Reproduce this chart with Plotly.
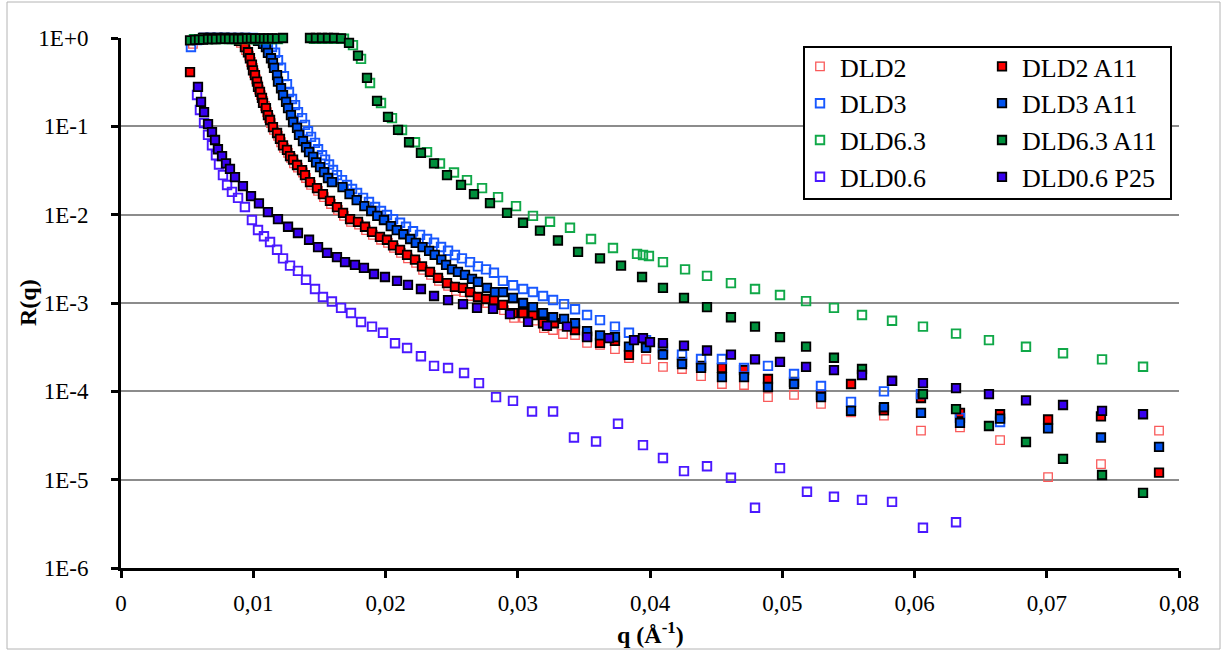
import plotly.graph_objects as go

# ---------------- data (q in 1/Angstrom, R dimensionless) ----------------
q_dld2 = [0.00544, 0.00597, 0.00650, 0.00703, 0.00756, 0.00809, 0.00862, 0.00907,
          0.00945, 0.00968, 0.00983, 0.00998, 0.01006, 0.01021, 0.01036, 0.01043, 0.01058, 0.01074,
          0.01089, 0.01104, 0.01119, 0.01134, 0.01157, 0.01187, 0.01210, 0.01232, 0.01263, 0.01285,
          0.01308, 0.01338, 0.01376, 0.01399, 0.01437, 0.01490, 0.01535, 0.01588, 0.01641, 0.01686,
          0.01739, 0.01800, 0.01853, 0.01905, 0.01966, 0.02019, 0.02064, 0.02117, 0.02170, 0.02231,
          0.02284, 0.02344, 0.02404, 0.02473, 0.02533, 0.02594, 0.02647, 0.02707, 0.02768, 0.02828,
          0.02896, 0.02972, 0.03047, 0.03123, 0.03198, 0.03267, 0.03342, 0.03433, 0.03524, 0.03622,
          0.03735, 0.03841, 0.03970, 0.04098, 0.04242, 0.04386, 0.04544, 0.04711, 0.04892, 0.05089,
          0.05293, 0.05520, 0.05769, 0.06049, 0.06344, 0.06647, 0.07010, 0.07410, 0.07849]
r_dld2 = [0.86, 0.97, 1.0, 1.0, 1.0, 1.0, 0.97, 0.88,
          0.73, 0.63, 0.535, 0.46, 0.40, 0.34, 0.29, 0.26, 0.226, 0.194,
          0.17, 0.145, 0.124, 0.109, 0.091, 0.078, 0.066, 0.057, 0.050, 0.044,
          0.038, 0.034, 0.030, 0.026, 0.0217, 0.0186, 0.0158, 0.0132, 0.0113, 0.0097,
          0.0083, 0.0077, 0.0067, 0.0059, 0.0052, 0.0048, 0.0042, 0.0037, 0.0032, 0.00284,
          0.00237, 0.00208, 0.00178, 0.00156, 0.00137, 0.00133, 0.00120, 0.00105, 0.00100, 0.00095,
          0.00083, 0.00068, 0.00068, 0.00063, 0.00052, 0.000495, 0.000446, 0.000434, 0.000353, 0.000335,
          0.000301, 0.000238, 0.000232, 0.000189, 0.000179, 0.000149, 0.000121, 0.000118, 8.6e-5, 9.1e-5,
          7.2e-5, 5.8e-5, 5.3e-5, 3.6e-5, 3.9e-5, 2.8e-5, 1.07e-5, 1.5e-5, 3.6e-5]

q_dld2_a11 = [0.00522, 0.00575, 0.00628, 0.00680, 0.00733, 0.00786, 0.00839, 0.00892,
              0.00937, 0.00960, 0.00975, 0.00990, 0.00998, 0.01013, 0.01028, 0.01036, 0.01051, 0.01066,
              0.01074, 0.01096, 0.01111, 0.01127, 0.01149, 0.01180, 0.01202, 0.01225, 0.01255, 0.01278,
              0.01301, 0.01331, 0.01369, 0.01391, 0.01429, 0.01482, 0.01527, 0.01580, 0.01633, 0.01679,
              0.01732, 0.01792, 0.01845, 0.01898, 0.01958, 0.02011, 0.02057, 0.02110, 0.02163, 0.02223,
              0.02276, 0.02336, 0.02397, 0.02465, 0.02525, 0.02586, 0.02639, 0.02699, 0.02760, 0.02820,
              0.02888, 0.02964, 0.03040, 0.03115, 0.03191, 0.03274, 0.03433, 0.03524, 0.03622, 0.03735,
              0.03841, 0.03970, 0.04098, 0.04242, 0.04386, 0.04544, 0.04711, 0.04892, 0.05089, 0.05293,
              0.05520, 0.05769, 0.06049, 0.06344, 0.06647, 0.07010, 0.07410, 0.07849]
r_dld2_a11 = [0.41, 0.97, 1.0, 1.0, 1.0, 1.0, 0.97, 0.93,
              0.79, 0.69, 0.59, 0.50, 0.43, 0.38, 0.32, 0.28, 0.245, 0.21,
              0.184, 0.161, 0.134, 0.118, 0.098, 0.084, 0.072, 0.061, 0.054, 0.046,
              0.042, 0.0365, 0.032, 0.028, 0.0234, 0.020, 0.0171, 0.0143, 0.0122, 0.0105,
              0.0089, 0.0083, 0.0073, 0.0064, 0.0056, 0.0052, 0.0045, 0.0040, 0.0035, 0.0031,
              0.0026, 0.00225, 0.00193, 0.00168, 0.00152, 0.00148, 0.00133, 0.00117, 0.00111, 0.00108,
              0.00095, 0.00077, 0.00077, 0.00073, 0.00059, 0.00059, 0.000495, 0.000423, 0.000353, 0.000372,
              0.000258, 0.000318, 0.000265, 0.000215, 0.000194, 0.000184, 0.000174, 0.000138, 0.000128, 9.1e-5,
              1.21e-4, 6.1e-5, 8.4e-5, 5.7e-5, 5.5e-5, 4.8e-5, 5.2e-5, 1.2e-5]

q_dld3 = [0.00529, 0.00575, 0.00628, 0.00680, 0.00733, 0.00786, 0.00839, 0.00892, 0.00945, 0.00998,
          0.01043, 0.01081, 0.01111, 0.01142, 0.01165, 0.01187, 0.01210, 0.01232, 0.01255, 0.01270,
          0.01293, 0.01316, 0.01338, 0.01369, 0.01391, 0.01414, 0.01437, 0.01467, 0.01490, 0.01520,
          0.01543, 0.01573, 0.01603, 0.01633, 0.01671, 0.01709, 0.01747, 0.01785, 0.01830, 0.01875,
          0.01921, 0.01966, 0.02011, 0.02057, 0.02110, 0.02155, 0.02208, 0.02261, 0.02314, 0.02367,
          0.02420, 0.02473, 0.02525, 0.02578, 0.02639, 0.02699, 0.02760, 0.02820, 0.02888, 0.02964,
          0.03040, 0.03115, 0.03191, 0.03267, 0.03350, 0.03433, 0.03524, 0.03622, 0.03735, 0.03841,
          0.03970, 0.04098, 0.04242, 0.04386, 0.04544, 0.04711, 0.04892, 0.05089, 0.05293, 0.05520,
          0.05769, 0.06049, 0.06344, 0.06647]
r_dld3 = [0.79, 0.95, 1.0, 1.0, 1.0, 1.0, 1.0, 1.0, 1.0, 1.0,
          0.97, 0.93, 0.89, 0.79, 0.68, 0.56, 0.46, 0.37, 0.30, 0.245,
          0.204, 0.174, 0.145, 0.124, 0.104, 0.088, 0.076, 0.065, 0.055, 0.047,
          0.042, 0.037, 0.032, 0.028, 0.0246, 0.0217, 0.0195, 0.0176, 0.0155, 0.0139,
          0.0122, 0.0110, 0.0099, 0.0089, 0.0081, 0.0073, 0.0065, 0.0059, 0.0053, 0.0048,
          0.0043, 0.0039, 0.0035, 0.0032, 0.0029, 0.0026, 0.0024, 0.0022, 0.00178, 0.00159,
          0.00144, 0.00133, 0.00120, 0.00108, 0.00097, 0.00085, 0.00073, 0.00064, 0.00054, 0.00046,
          0.00038, 0.00031, 0.00026, 0.000232, 0.000232, 0.000184, 0.000194, 0.000157, 0.000115, 7.6e-5,
          1.0e-4, 9.3e-5, 5.0e-5, 4.5e-5]

q_dld3_a11 = [0.00522, 0.00567, 0.00620, 0.00673, 0.00726, 0.00779, 0.00832, 0.00885, 0.00937, 0.00990,
              0.01036, 0.01074, 0.01096, 0.01111, 0.01134, 0.01149, 0.01157, 0.01180, 0.01187, 0.01210,
              0.01225, 0.01248, 0.01263, 0.01285, 0.01301, 0.01331, 0.01346, 0.01376, 0.01399, 0.01422,
              0.01452, 0.01475, 0.01505, 0.01535, 0.01565, 0.01595, 0.01675, 0.01728, 0.01782, 0.01840,
              0.01892, 0.01938, 0.01988, 0.02040, 0.02085, 0.02135, 0.02186, 0.02229, 0.02280, 0.02330,
              0.02372, 0.02422, 0.02458, 0.02503, 0.02548, 0.02601, 0.02654, 0.02699, 0.02767, 0.02828,
              0.02888, 0.02964, 0.03040, 0.03115, 0.03191, 0.03267, 0.03350, 0.03433, 0.03524, 0.03622,
              0.03735, 0.03841, 0.03970, 0.04098, 0.04242, 0.04386, 0.04544, 0.04711, 0.04892, 0.05089,
              0.05293, 0.05520, 0.05769, 0.06049, 0.06344, 0.06647, 0.07010, 0.07410, 0.07849]
r_dld3_a11 = [1.02, 1.02, 1.0, 1.0, 1.0, 1.0, 1.0, 1.0, 1.0, 0.97,
              0.93, 0.86, 0.79, 0.68, 0.59, 0.52, 0.46, 0.38, 0.32, 0.27,
              0.226, 0.189, 0.161, 0.134, 0.112, 0.096, 0.080, 0.068, 0.058, 0.051,
              0.045, 0.039, 0.0346, 0.0303, 0.026, 0.0234, 0.0205, 0.0171, 0.0146, 0.0125,
              0.0110, 0.0097, 0.0087, 0.0074, 0.0067, 0.0060, 0.0053, 0.0048, 0.0043, 0.0039,
              0.0035, 0.0031, 0.0027, 0.0024, 0.00225, 0.00208, 0.00188, 0.00173, 0.00148, 0.00133,
              0.00133, 0.00114, 0.00100, 0.00090, 0.00077, 0.00069, 0.00066, 0.00059, 0.00048, 0.00043,
              0.00041, 0.00032, 0.00031, 0.00026, 0.000204, 0.000184, 0.000145, 0.000145, 0.000112, 0.000121,
              8.6e-5, 6.0e-5, 6.6e-5, 5.7e-5, 4.4e-5, 4.9e-5, 3.8e-5, 3.0e-5, 2.35e-5]

q_dld63 = [0.00552, 0.00605, 0.00658, 0.00711, 0.00764, 0.00817, 0.00870, 0.00922, 0.00975, 0.01028,
           0.01081, 0.01134, 0.01187,
           0.01459, 0.01505, 0.01550, 0.01595, 0.01641, 0.01686,
           0.01754, 0.01815, 0.01883, 0.01966, 0.02049, 0.02125, 0.02223, 0.02314, 0.02412, 0.02518,
           0.02616, 0.02730, 0.02851, 0.02987, 0.03115, 0.03244, 0.03395, 0.03554, 0.03720, 0.03902,
           0.03947, 0.03992, 0.04098, 0.04265, 0.04431, 0.04612, 0.04794, 0.04983, 0.05180, 0.05391,
           0.05603, 0.05830, 0.06064, 0.06314, 0.06563, 0.06843, 0.07123, 0.07418, 0.07728]
r_dld63 = [0.97, 0.97, 0.97, 0.97, 0.97, 0.97, 0.97, 0.97, 0.97, 0.97,
           0.97, 0.97, 0.97,
           0.98, 0.98, 0.98, 0.98, 0.98, 0.98,
           0.83, 0.58, 0.31, 0.184, 0.124, 0.091, 0.066, 0.051, 0.038, 0.030,
           0.0246, 0.020, 0.0158, 0.0125, 0.0097, 0.0083, 0.0071, 0.0053, 0.0042, 0.0036,
           0.0035, 0.0034, 0.0029, 0.0024, 0.00203, 0.00168, 0.00144, 0.00123, 0.00105, 0.00088,
           0.00073, 0.00063, 0.00054, 0.00045, 0.00038, 0.00032, 0.00027, 0.00023, 0.00019]

q_dld63_a11 = [0.00522, 0.00560, 0.00590, 0.00620, 0.00658, 0.00688, 0.00718, 0.00756, 0.00786, 0.00817,
               0.00854, 0.00885, 0.00915, 0.00953, 0.00983, 0.01013, 0.01051, 0.01081, 0.01111, 0.01142,
               0.01180, 0.01225,
               0.01429, 0.01474, 0.01520, 0.01565, 0.01611, 0.01664,
               0.01724, 0.01792, 0.01860, 0.01936, 0.02019, 0.02095, 0.02178, 0.02268, 0.02367, 0.02465,
               0.02571, 0.02669, 0.02790, 0.02919, 0.03040, 0.03168, 0.03304, 0.03456, 0.03622, 0.03781,
               0.03940, 0.04098, 0.04257, 0.04431, 0.04612, 0.04794, 0.04983, 0.05180, 0.05391, 0.05603,
               0.05830, 0.06064, 0.06314, 0.06563, 0.06843, 0.07123, 0.07418, 0.07728]
r_dld63_a11 = [0.94, 0.95, 0.96, 0.96, 0.97, 0.97, 0.97, 0.98, 0.98, 0.98,
               0.98, 0.98, 0.98, 0.99, 0.99, 0.99, 0.99, 0.99, 0.99, 0.99,
               0.99, 1.0,
               1.0, 1.0, 1.0, 1.0, 1.0, 0.99,
               0.88, 0.63, 0.353, 0.194, 0.128, 0.091, 0.066, 0.050, 0.038, 0.028,
               0.0217, 0.0171, 0.0135, 0.0105, 0.0081, 0.0066, 0.0051, 0.0038, 0.0032, 0.00265,
               0.00197, 0.00148, 0.00114, 0.00090, 0.00069, 0.00054, 0.00041, 0.00032, 0.00024, 0.000179,
               0.000131, 9.3e-5, 6.3e-5, 4.05e-5, 2.67e-5, 1.72e-5, 1.13e-5, 7.1e-6]

q_dld06 = [0.00575, 0.00597, 0.00628, 0.00658, 0.00688, 0.00718, 0.00741, 0.00771, 0.00802, 0.00839,
           0.00885, 0.00937, 0.00990, 0.01036, 0.01081, 0.01127, 0.01180, 0.01225, 0.01278, 0.01338,
           0.01399, 0.01467, 0.01527, 0.01595, 0.01664, 0.01739, 0.01815, 0.01898, 0.01981, 0.02072,
           0.02163, 0.02268, 0.02367, 0.02473, 0.02594, 0.02707, 0.02836, 0.02964, 0.03108, 0.03267,
           0.03425, 0.03592, 0.03758, 0.03947, 0.04098, 0.04257, 0.04431, 0.04612, 0.04794, 0.04983,
           0.05187, 0.05391, 0.05603, 0.05830, 0.06064, 0.06314]
r_dld06 = [0.226, 0.153, 0.109, 0.080, 0.061, 0.047, 0.037, 0.028, 0.0217, 0.0181,
           0.0155, 0.0122, 0.0087, 0.0067, 0.0057, 0.0049, 0.0040, 0.0032, 0.00265, 0.00231,
           0.00183, 0.00144, 0.00117, 0.00104, 0.00088, 0.00077, 0.00061, 0.00054, 0.00046, 0.00035,
           0.00031, 0.00025, 0.000194, 0.000184, 0.000161, 0.000124, 8.6e-5, 7.8e-5, 5.9e-5, 5.9e-5,
           3.0e-5, 2.7e-5, 4.3e-5, 2.46e-5, 1.76e-5, 1.25e-5, 1.42e-5, 1.05e-5, 4.8e-6, 1.35e-5,
           7.3e-6, 6.4e-6, 5.9e-6, 5.6e-6, 2.85e-6, 3.3e-6]

q_dld06_p25 = [0.00582, 0.00605, 0.00628, 0.00658, 0.00688, 0.00711, 0.00733, 0.00764, 0.00794, 0.00824,
               0.00862, 0.00922, 0.00983, 0.01043, 0.01111, 0.01187, 0.01263, 0.01338, 0.01422, 0.01490,
               0.01558, 0.01633, 0.01694, 0.01769, 0.01837, 0.01913, 0.01996, 0.02087, 0.02170, 0.02268,
               0.02367, 0.02473, 0.02586, 0.02692, 0.02813, 0.02941, 0.03078, 0.03221, 0.03372, 0.03524,
               0.03690, 0.03879, 0.03947, 0.04000, 0.04098, 0.04257, 0.04431, 0.04612, 0.04794, 0.04983,
               0.05180, 0.05391, 0.05603, 0.05830, 0.06064, 0.06314, 0.06563, 0.06843, 0.07123, 0.07418,
               0.07728]
r_dld06_p25 = [0.28, 0.189, 0.145, 0.106, 0.086, 0.070, 0.055, 0.046, 0.038, 0.033,
               0.0266, 0.021, 0.0162, 0.0134, 0.0107, 0.0089, 0.0073, 0.0062, 0.0052, 0.0043,
               0.0037, 0.0033, 0.0029, 0.0027, 0.0025, 0.00213, 0.00197, 0.00178, 0.00160, 0.00144,
               0.00120, 0.00108, 0.00097, 0.00088, 0.00086, 0.00075, 0.00061, 0.00055, 0.00054, 0.00041,
               0.00040, 0.00038, 0.00040, 0.00036, 0.00035, 0.00033, 0.00029, 0.00026, 0.00023, 0.000215,
               0.000189, 0.000174, 0.000153, 0.000131, 0.000124, 0.000109, 9.3e-5, 7.9e-5, 7.0e-5, 6.0e-5,
               5.5e-5]

x_tick_vals = [0, 0.01, 0.02, 0.03, 0.04, 0.05, 0.06, 0.07, 0.08]
x_tick_text = ["0", "0,01", "0,02", "0,03", "0,04", "0,05", "0,06", "0,07", "0,08"]
y_tick_vals = [1, 1e-1, 1e-2, 1e-3, 1e-4, 1e-5, 1e-6]
y_tick_text = ["1E+0", "1E-1", "1E-2", "1E-3", "1E-4", "1E-5", "1E-6"]

# ---------------- styling ----------------
FONT = "Liberation Serif"

series = [
    # name, q, r, filled?, colour, legend
    ("DLD2", q_dld2, r_dld2, False, "#f95a5a", "legend"),
    ("DLD2 A11", q_dld2_a11, r_dld2_a11, True, "#ff0000", "legend2"),
    ("DLD3", q_dld3, r_dld3, False, "#1858ff", "legend"),
    ("DLD3 A11", q_dld3_a11, r_dld3_a11, True, "#0052ee", "legend2"),
    ("DLD6.3", q_dld63, r_dld63, False, "#10a848", "legend"),
    ("DLD6.3 A11", q_dld63_a11, r_dld63_a11, True, "#00903c", "legend2"),
    ("DLD0.6", q_dld06, r_dld06, False, "#4a18ff", "legend"),
    ("DLD0.6 P25", q_dld06_p25, r_dld06_p25, True, "#3800f0", "legend2"),
]

fig = go.Figure()
for name, q, r, filled, col, leg in series:
    assert len(q) == len(r), name
    if filled:
        marker = dict(symbol="square", size=8.5, color=col,
                      line=dict(color="black", width=1.8))
    else:
        lw = 1.3 if name == "DLD2" else 1.9
        marker = dict(symbol="square-open", size=8.5, color=col,
                      line=dict(color=col, width=lw))
    fig.add_trace(go.Scatter(x=q, y=r, mode="markers", name=name, marker=marker,
                             legend=leg, cliponaxis=False))


def px_x(p):
    return (p - 121) / 1058.0


def px_y(p):
    return (568 - p) / 530.0


fig.update_layout(
    width=1226, height=651,
    margin=dict(l=121, r=47, t=38, b=83),
    paper_bgcolor="white", plot_bgcolor="white",
    font=dict(family=FONT, color="black"),
    xaxis=dict(range=[0, 0.08], tickvals=x_tick_vals, ticktext=x_tick_text,
               showgrid=False, zeroline=False, showline=True, linecolor="black", linewidth=3,
               ticks="outside", ticklen=7, tickwidth=2.5, tickcolor="black",
               tickfont=dict(family=FONT, size=23, color="black"), ticklabelstandoff=5),
    yaxis=dict(type="log", range=[-6, 0], tickvals=y_tick_vals, ticktext=y_tick_text,
               showgrid=True, gridcolor="#8c8c8c", gridwidth=2, zeroline=False,
               showline=True, linecolor="black", linewidth=3,
               ticks="outside", ticklen=7, tickwidth=2.5, tickcolor="black",
               tickfont=dict(family=FONT, size=23, color="black"), ticklabelstandoff=18),
    legend=dict(x=px_x(800), y=px_y(43), xanchor="left", yanchor="top",
                bgcolor="rgba(0,0,0,0)", borderwidth=0,
                font=dict(family=FONT, size=26, color="black")),
    legend2=dict(x=px_x(982), y=px_y(43), xanchor="left", yanchor="top",
                 bgcolor="rgba(0,0,0,0)", borderwidth=0,
                 font=dict(family=FONT, size=26, color="black")),
    shapes=[
        # legend frame
        dict(type="rect", xref="paper", yref="paper",
             x0=px_x(804), x1=px_x(1171), y0=px_y(199), y1=px_y(47),
             line=dict(color="black", width=2), fillcolor="white", layer="above"),
        # outer chart frame
        dict(type="rect", xref="paper", yref="paper",
             x0=px_x(7), x1=px_x(1220), y0=px_y(649), y1=px_y(2),
             line=dict(color="#b4b4b4", width=1), fillcolor="rgba(0,0,0,0)", layer="below"),
    ],
    annotations=[
        dict(text="q (Å<sup>-1</sup>)", xref="paper", yref="paper",
             x=px_x(650), y=px_y(633), xanchor="center", yanchor="middle", showarrow=False,
             font=dict(family=FONT, size=24, color="black", weight="bold")),
        dict(text="R(q)", xref="paper", yref="paper", textangle=-90,
             x=px_x(28), y=px_y(303), xanchor="center", yanchor="middle", showarrow=False,
             font=dict(family=FONT, size=24, color="black", weight="bold")),
    ],
)

# the page's default body margin would shift the figure; remove it
fig.write_html("out.html", config={"displayModeBar": False},
               post_script="document.body.style.margin='0';document.body.style.padding='0';")
